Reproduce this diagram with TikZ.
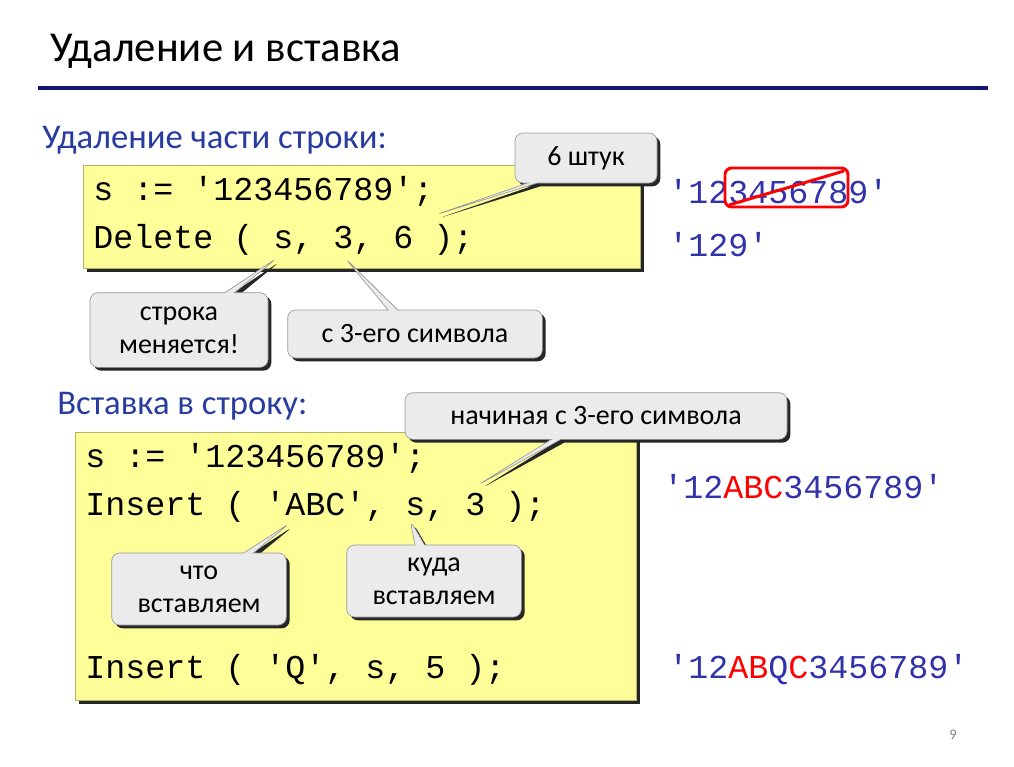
\documentclass[tikz,border=0pt]{standalone}
\usepackage{fontspec}
\setmainfont{Carlito}
\newfontfamily\codefont{Liberation Mono}
\usetikzlibrary{shapes.callouts,shadows}

\definecolor{headblue}{RGB}{40,60,160}
\definecolor{codeblue}{RGB}{50,50,170}
\definecolor{rulenavy}{RGB}{20,20,110}
\definecolor{paleyellow}{RGB}{255,255,153}
\definecolor{bubblegray}{RGB}{235,235,235}

\tikzset{
  heading/.style={anchor=base west, text=headblue, font=\fontsize{26pt}{29pt}\selectfont, inner sep=0pt},
  code/.style={anchor=base west, font=\codefont\fontsize{25pt}{28pt}\selectfont, inner sep=0pt},
  result/.style={code, text=codeblue},
  codebox/.style={fill=paleyellow, draw=paleyellow!70!black, line width=0.5pt},
  boxshadow/.style={fill=black!85},
  bubble/.style={rectangle callout, rounded corners=6pt, fill=bubblegray, draw=black!40,
    line width=0.5pt, align=center, font=\fontsize{21pt}{25pt}\selectfont,
    drop shadow={shadow xshift=2.5pt, shadow yshift=-2.5pt, fill=black!85, opacity=1}}
}

\begin{document}
\begin{tikzpicture}[x=0.75pt, y=-0.75pt]
\useasboundingbox (0,0) rectangle (1014,767);

% title
\node[anchor=base west, inner sep=0pt, font=\fontsize{32pt}{36pt}\selectfont] (title) at (50,62) {Удаление и вставка};
\draw[rulenavy, line width=2.5pt] (38,88) -- (988,88);

% delete part
\node[heading] (delhead) at (42,148) {Удаление части строки:};
\fill[boxshadow] (87,169) rectangle (644,272);
\filldraw[codebox] (83,165) rectangle (640,268);
\node[code] (del1) at (93,200) {s := '123456789';};
\node[code] (del2) at (93,248) {Delete ( s, 3, 6 );};

\node[result] (res1) at (668,203) {'123456789'};
\node[result] (res2) at (668,256) {'129'};
\draw[red, line width=2.2pt, rounded corners=5pt] (725,168) rectangle (848,207);
\draw[red, line width=2.2pt] (729,205) -- (844,171);

\coordinate (t6) at (435,215);
\coordinate (tstr) at (277,258);
\coordinate (t3) at (345,258);
\node[bubble, minimum width=106.5pt, minimum height=37.5pt, callout absolute pointer={(t6)}] (six) at (586,158) {6 штук};
\node[bubble, minimum width=133.5pt, minimum height=56pt, callout absolute pointer={(tstr)}] (strchg) at (179,330) {строка\\меняется!};
\node[bubble, minimum width=191pt, minimum height=36pt, callout absolute pointer={(t3)}] (from3) at (415,334) {с 3-его символа};

% insert part
\node[heading] (inshead) at (57,414) {Вставка в строку:};
\fill[boxshadow] (79,436) rectangle (640,704);
\filldraw[codebox] (75,432) rectangle (636,700);
\node[code] (ins1) at (85,467) {s := '123456789';};
\node[code] (ins2) at (85,515) {Insert ( 'ABC', s, 3 );};
\node[code] (ins3) at (85,678) {Insert ( 'Q', s, 5 );};

\node[result] (res3) at (663,498) {'12{\color{red}ABC}3456789'};
\node[result] (res4) at (668,678) {'12{\color{red}AB}Q{\color{red}C}3456789'};

\coordinate (tnach) at (478,485);
\coordinate (twhat) at (290,523);
\coordinate (twhere) at (410,520);
\node[bubble, minimum width=286.5pt, minimum height=35pt, callout absolute pointer={(tnach)}] (start3) at (596,416) {начиная с 3-его символа};
\node[bubble, minimum width=131pt, minimum height=54pt, callout absolute pointer={(twhat)}] (what) at (199,589) {что\\вставляем};
\node[bubble, minimum width=131pt, minimum height=54pt, callout absolute pointer={(twhere)}] (where) at (434,581) {куда\\вставляем};

\node[text=black!50, font=\fontsize{11pt}{13pt}\selectfont] (page) at (953,735) {9};
\end{tikzpicture}
\end{document}
